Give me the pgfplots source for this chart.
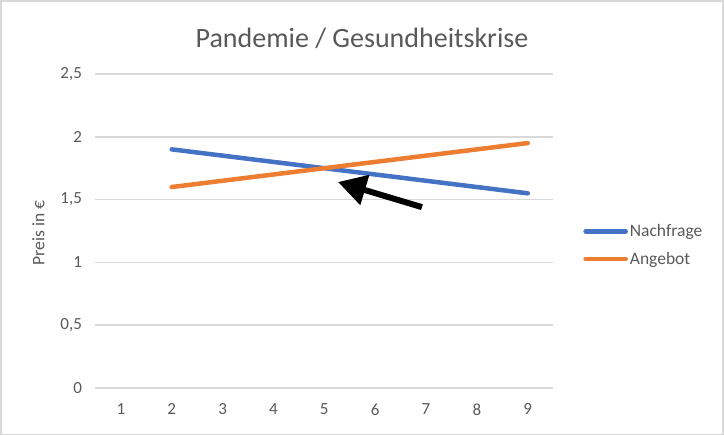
\documentclass[border=0pt]{standalone}
\usepackage{fontspec}
\setmainfont{Carlito}
\usepackage{pgfplots}
\pgfplotsset{compat=1.18}
\usetikzlibrary{arrows.meta}
\definecolor{exblue}{HTML}{4472C4}
\definecolor{exorange}{HTML}{ED7D31}
\definecolor{txtgray}{HTML}{595959}
\definecolor{gridgray}{HTML}{D9D9D9}
\begin{document}
\begin{tikzpicture}
\useasboundingbox (-95.4bp,-48bp) rectangle (628.6bp,388bp);
\draw[gridgray, line width=1.5bp] (-94.4bp,-46.5bp) rectangle (627.6bp,387bp);
\begin{axis}[
  scale only axis,
  width=457.8bp, height=314bp,
  xmin=0.5, xmax=9.5, ymin=0, ymax=2.5,
  axis line style={draw=none},
  xtick={1,2,3,4,5,6,7,8,9},
  ytick={0,0.5,1,1.5,2,2.5},
  yticklabels={0,{0,5},1,{1,5},2,{2,5}},
  major tick length=0pt,
  ymajorgrids,
  grid style={gridgray, line width=1.5bp},
  tick label style={font=\fontsize{17bp}{19bp}\selectfont, text=txtgray},
  xticklabel style={yshift=-12bp},
  yticklabel style={xshift=-10bp},
  /pgf/number format/assume math mode=true,
  legend style={at={(1.059,0.455)}, anchor=west, draw=none, fill=none,
    font=\fontsize{17.5bp}{19bp}\selectfont, text=txtgray, row sep=10bp,
    legend cell align=left},
  legend image code/.code={\draw[#1, line cap=round] (0bp,0bp) -- (40bp,0bp);},
]
\addplot[exblue, line width=4.5bp, line cap=round, smooth] coordinates {
  (2,1.90) (3,1.85) (4,1.80) (5,1.75) (6,1.70) (7,1.65) (8,1.60) (9,1.55)};
\addlegendentry{Nachfrage}
\addplot[exorange, line width=4.5bp, line cap=round, smooth] coordinates {
  (2,1.60) (3,1.65) (4,1.70) (5,1.75) (6,1.80) (7,1.85) (8,1.90) (9,1.95)};
\addlegendentry{Angebot}
\draw[black, line width=6bp, -{Triangle[width=30bp,length=28bp]}] (axis cs:6.92,1.44) -- (axis cs:5.27,1.64);
\end{axis}
\node[text=txtgray, font=\fontsize{28bp}{30bp}\selectfont] at (266.6bp,350bp) {Pandemie / Gesundheitskrise};
\node[text=txtgray, rotate=90, font=\fontsize{17.5bp}{19bp}\selectfont] at (-57bp,155bp) {Preis in €};
\end{tikzpicture}
\end{document}
